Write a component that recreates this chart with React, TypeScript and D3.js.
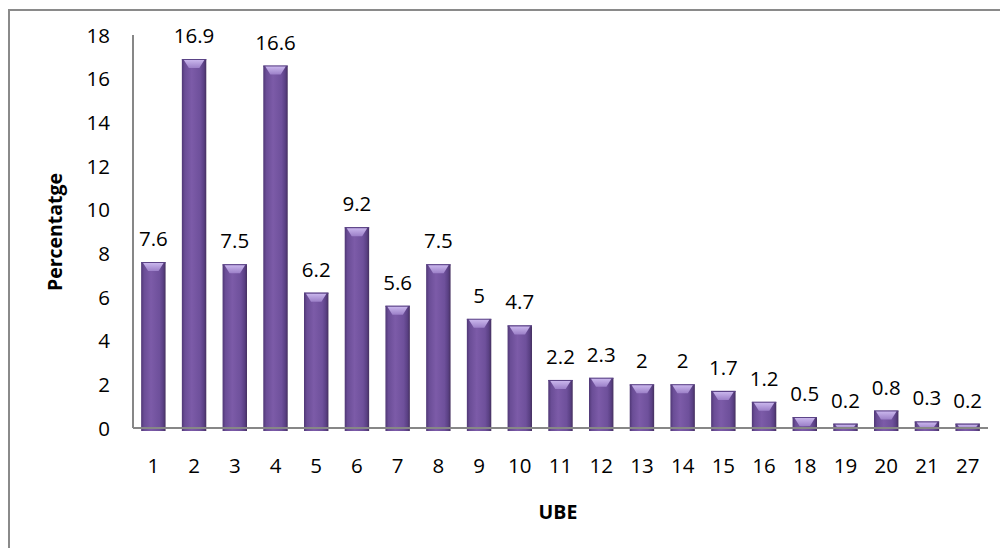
import React from "react";
import * as d3 from "d3";

const categories: string[] = [
  "1", "2", "3", "4", "5", "6", "7", "8", "9", "10", "11",
  "12", "13", "14", "15", "16", "18", "19", "20", "21", "27",
];
const values: number[] = [
  7.6, 16.9, 7.5, 16.6, 6.2, 9.2, 5.6, 7.5, 5, 4.7, 2.2,
  2.3, 2, 2, 1.7, 1.2, 0.5, 0.2, 0.8, 0.3, 0.2,
];
const yTicks: number[] = [0, 2, 4, 6, 8, 10, 12, 14, 16, 18];

const width = 1000;
const height = 548;
const plotLeft = 133;
const plotRight = 988;
const plotTop = 35;
const plotBottom = 428;
const font = "'Open Sans', 'Liberation Sans', sans-serif";
const labelSize = 20.5;

export default function App() {
  const x = d3
    .scaleBand<string>()
    .domain(categories)
    .range([plotLeft, plotRight])
    .paddingInner(0.4)
    .paddingOuter(0.2);

  const y = d3.scaleLinear().domain([0, 18]).range([plotBottom, plotTop]);

  const bw = x.bandwidth();

  return (
    <svg
      width={width}
      height={height}
      style={{ position: "absolute", left: 0, top: 0, background: "#fff" }}
    >
      <defs>
        <linearGradient id="barGrad" x1="0" x2="1" y1="0" y2="0">
          <stop offset="0" stopColor="#4f3775" />
          <stop offset="0.12" stopColor="#6a4d96" />
          <stop offset="0.4" stopColor="#7c5ba8" />
          <stop offset="0.75" stopColor="#6e509b" />
          <stop offset="0.9" stopColor="#5a4084" />
          <stop offset="1" stopColor="#45305f" />
        </linearGradient>
        <linearGradient id="capGrad" x1="0" x2="0" y1="0" y2="1">
          <stop offset="0" stopColor="#c9b6ec" />
          <stop offset="1" stopColor="#9c80c8" />
        </linearGradient>
      </defs>

      {/* outer frame */}
      <rect x={9} y={10} width={1200} height={700} fill="none" stroke="#8a8a8a" strokeWidth={2} />

      {/* y axis */}
      <line x1={plotLeft} x2={plotLeft} y1={plotTop} y2={plotBottom} stroke="#878787" strokeWidth={2} />
      {yTicks.map((t) => (
        <text
          key={t}
          x={plotLeft - 23}
          y={y(t) + 7.5}
          textAnchor="end"
          fontFamily={font}
          fontSize={labelSize}
          fill="#000"
        >
          {t}
        </text>
      ))}

      {/* bars */}
      {categories.map((c, i) => {
        const v = values[i];
        const bx = x(c) as number;
        const top = y(v);
        const bottom = plotBottom + 3;
        const h = bottom - top;
        const capH = Math.min(8, Math.max(2, h - 3));
        const inset = Math.min(5, capH * 0.7);
        const capPts = [
          [bx + 2, top + 1],
          [bx + bw - 2, top + 1],
          [bx + bw - 2 - inset, top + 1 + capH],
          [bx + 2 + inset, top + 1 + capH],
        ]
          .map((p) => p.join(","))
          .join(" ");
        return (
          <g key={c}>
            <rect x={bx} y={top} width={bw} height={h} fill="url(#barGrad)" />
            <rect x={bx} y={top} width={bw} height={1.2} fill="#5b4386" />
            <polygon points={capPts} fill="url(#capGrad)" />
            <text
              x={bx + bw / 2}
              y={top - 16}
              textAnchor="middle"
              fontFamily={font}
              fontSize={labelSize}
              fill="#000"
            >
              {v}
            </text>
          </g>
        );
      })}

      {/* x axis */}
      <line x1={plotLeft} x2={plotRight} y1={plotBottom} y2={plotBottom} stroke="#878787" strokeWidth={2} />
      {categories.map((c) => (
        <text
          key={c}
          x={(x(c) as number) + bw / 2}
          y={473}
          textAnchor="middle"
          fontFamily={font}
          fontSize={labelSize}
          fill="#000"
        >
          {c}
        </text>
      ))}

      {/* axis titles */}
      <text
        x={558}
        y={519}
        textAnchor="middle"
        fontFamily={font}
        fontSize={19.5}
        fontWeight="bold"
        fill="#000"
      >
        UBE
      </text>
      <text
        transform={`translate(62,232) rotate(-90)`}
        textAnchor="middle"
        fontFamily={font}
        fontSize={19.5}
        fontWeight="bold"
        fill="#000"
      >
        Percentatge
      </text>
    </svg>
  );
}
